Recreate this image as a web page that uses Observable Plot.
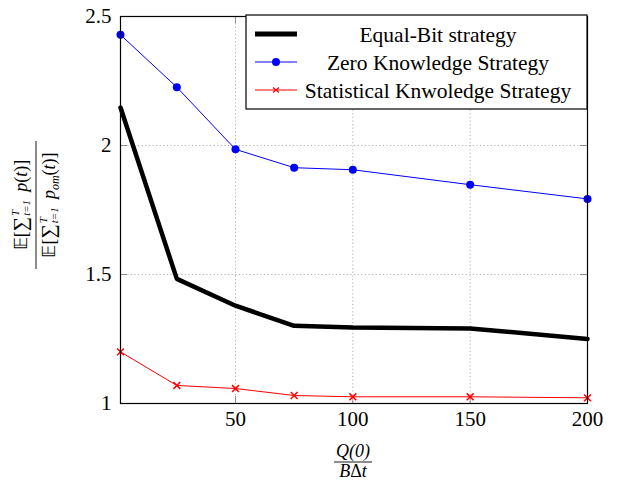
<!DOCTYPE html>
<html>
<head>
<meta charset="utf-8">
<script src="https://cdn.jsdelivr.net/npm/d3@7"></script>
<script src="https://cdn.jsdelivr.net/npm/@observablehq/plot@0.6"></script>
<style>
  html, body { margin: 0; padding: 0; background: #fff; }
  #chart svg { display: block; }
</style>
</head>
<body>
<div id="chart"></div>
<script>
const xValues = [1, 25, 50, 75, 100, 150, 200];
const equalBit = [2.147, 1.483, 1.379, 1.301, 1.295, 1.291, 1.250];
const zeroKnowledge = [2.429, 2.226, 1.985, 1.914, 1.906, 1.848, 1.793];
const statisticalKnowledge = [1.200, 1.070, 1.058, 1.031, 1.026, 1.026, 1.022];
const seriesNames = ["Equal-Bit strategy", "Zero Knowledge Strategy", "Statistical Knwoledge Strategy"];
const xTicks = [50, 100, 150, 200];
const yTicks = [1, 1.5, 2, 2.5];

const rows = (vals, s) => xValues.map((x, i) => ({x, y: vals[i], s}));
const eb = rows(equalBit, seriesNames[0]);
const zk = rows(zeroKnowledge, seriesNames[1]);
const sk = rows(statisticalKnowledge, seriesNames[2]);

const W = 622, H = 481;
const mL = 120, mR = 35, mT = 16, mB = 78;
const pw = W - mL - mR, ph = H - mT - mB;
const tl = 7;
const font = "'Liberation Serif', 'Times New Roman', serif";
const tickColor = "#8c8c8c";

const plot = Plot.plot({
  width: W, height: H,
  marginLeft: mL, marginRight: mR, marginTop: mT, marginBottom: mB,
  style: {fontFamily: font, fontSize: "21px", color: "#000", background: "#fff"},
  x: {domain: [1, 200], ticks: xTicks, label: null},
  y: {domain: [1, 2.5], ticks: yTicks, label: null, tickFormat: d => String(d)},
  marks: [
    Plot.gridX(xTicks, {stroke: "#b0b0b0", strokeOpacity: 1, strokeDasharray: "1.2,2.4"}),
    Plot.gridY(yTicks, {stroke: "#b0b0b0", strokeOpacity: 1, strokeDasharray: "1.2,2.4"}),
    Plot.tickX(xTicks, {x: d => d, insetTop: ph - tl, stroke: tickColor, strokeWidth: 1}),
    Plot.tickX(xTicks, {x: d => d, insetBottom: ph - tl, stroke: tickColor, strokeWidth: 1}),
    Plot.tickY(yTicks, {y: d => d, insetRight: pw - tl, stroke: tickColor, strokeWidth: 1}),
    Plot.tickY(yTicks, {y: d => d, insetLeft: pw - tl, stroke: tickColor, strokeWidth: 1}),
    Plot.axisX(xTicks, {anchor: "bottom", tickSize: 0, tickPadding: 8, fontSize: 21, label: null}),
    Plot.axisY(yTicks, {anchor: "left", tickSize: 0, tickPadding: 9, fontSize: 21, label: null, tickFormat: d => String(d)}),
    Plot.line(sk, {x: "x", y: "y", stroke: "#ff0000", strokeWidth: 1}),
    Plot.dot(sk, {x: "x", y: "y", symbol: "times", r: 3.2, stroke: "#ff0000", strokeWidth: 1.5}),
    Plot.line(eb, {x: "x", y: "y", stroke: "#000", strokeWidth: 4.5, strokeLinejoin: "miter"}),
    Plot.line(zk, {x: "x", y: "y", stroke: "#0000ff", strokeWidth: 1}),
    Plot.dot(zk, {x: "x", y: "y", r: 4, fill: "#0000ff", stroke: "none"}),
    Plot.frame({stroke: "#000", strokeWidth: 1.2})
  ]
});

document.getElementById("chart").appendChild(plot);

const svg = d3.select(plot);
const ns = svg.append("g").attr("font-family", font).attr("fill", "#000");

// Legend
const lg = ns.append("g");
const lx0 = 246, lx1 = 587, ly0 = 15, ly1 = 109;
lg.append("rect").attr("x", lx0).attr("y", ly0).attr("width", lx1 - lx0).attr("height", ly1 - ly0)
  .attr("fill", "#fff").attr("stroke", "#000").attr("stroke-width", 1.2);
const rowY = [34, 62, 90];
const styles = [
  {stroke: "#000", w: 5, marker: null},
  {stroke: "#0000ff", w: 1, marker: "dot"},
  {stroke: "#ff0000", w: 1, marker: "x"}
];
seriesNames.forEach((name, i) => {
  const y = rowY[i], st = styles[i];
  lg.append("line").attr("x1", 255).attr("x2", 297).attr("y1", y).attr("y2", y)
    .attr("stroke", st.stroke).attr("stroke-width", st.w);
  if (st.marker === "dot") lg.append("circle").attr("cx", 276).attr("cy", y).attr("r", 4).attr("fill", st.stroke);
  if (st.marker === "x") {
    lg.append("path").attr("d", `M273,${y-2.5}L279,${y+2.5}M273,${y+2.5}L279,${y-2.5}`)
      .attr("stroke", st.stroke).attr("stroke-width", 1.2);
  }
  lg.append("text").attr("x", 438).attr("y", y).attr("dy", "0.35em").attr("text-anchor", "middle")
    .attr("font-size", 21.5).text(name);
});

// Y label (fraction)
function fracPart(sel, y, withOm) {
  const t = sel.append("text").attr("x", 0).attr("y", y).attr("text-anchor", "middle");
  t.append("tspan").text("𝔼[");
  t.append("tspan").attr("font-size", 20).text("∑");
  t.append("tspan").attr("font-size", 11).attr("dx", 1).attr("dy", -8).attr("font-style", "italic").text("T");
  t.append("tspan").attr("font-size", 11).attr("dx", -6).attr("dy", 11).attr("font-style", "italic").text("t=1");
  t.append("tspan").attr("dy", -3).attr("font-style", "italic").text("\u2009 p");
  if (withOm) {
    t.append("tspan").attr("font-size", 12).attr("dy", 4).attr("font-style", "italic").text("om");
    t.append("tspan").attr("dy", -4).text("(");
  } else {
    t.append("tspan").text("(");
  }
  t.append("tspan").attr("font-style", "italic").text("t");
  t.append("tspan").text(")]");
  return t;
}
const yl = ns.append("g").attr("transform", "translate(36,205) rotate(-90)").attr("font-size", 18);
fracPart(yl, -9, false);
yl.append("line").attr("x1", -64).attr("x2", 64).attr("y1", 0).attr("y2", 0).attr("stroke", "#000").attr("stroke-width", 0.9);
fracPart(yl, 19, true);

// X label (fraction)
const xl = ns.append("g").attr("transform", "translate(353,462)").attr("font-size", 18);
xl.append("text").attr("x", 0).attr("y", -5).attr("text-anchor", "middle").attr("font-style", "italic").text("Q(0)");
xl.append("line").attr("x1", -19).attr("x2", 19).attr("y1", 0).attr("y2", 0).attr("stroke", "#000").attr("stroke-width", 0.9);
const xd = xl.append("text").attr("x", 0).attr("y", 15).attr("text-anchor", "middle");
xd.append("tspan").attr("font-style", "italic").text("B");
xd.append("tspan").text("Δ");
xd.append("tspan").attr("font-style", "italic").text("t");
</script>
</body>
</html>
